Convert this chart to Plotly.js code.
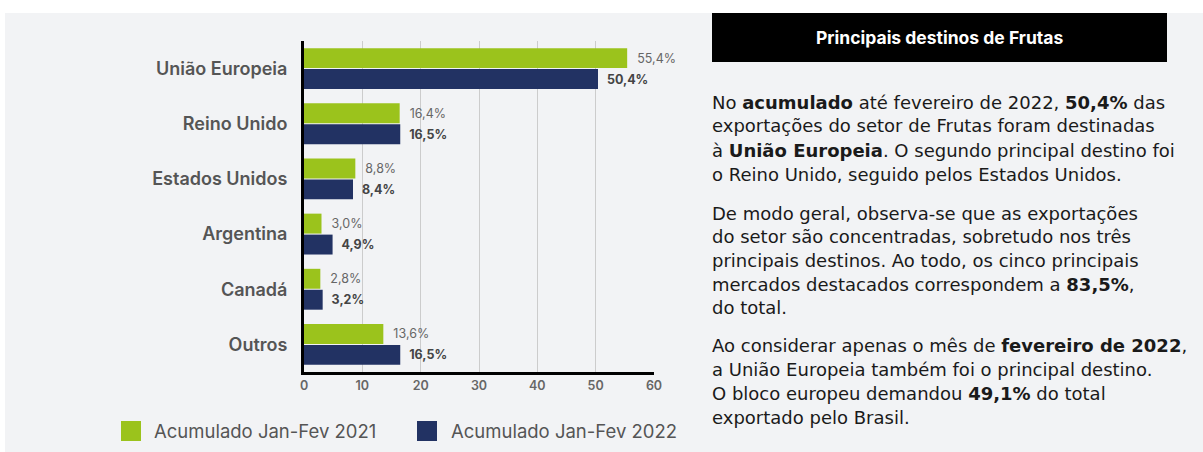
<!DOCTYPE html>
<html>
<head>
<meta charset="utf-8">
<script src="https://cdn.plot.ly/plotly-3.0.1.min.js"></script>
<style>html,body{margin:0;padding:0;background:#fff;}#chart{width:1203px;height:452px;}</style>
</head>
<body>
<div id="chart"></div>
<script>
// ---- data ----
const categories = ["União Europeia", "Reino Unido", "Estados Unidos", "Argentina", "Canadá", "Outros"];
const series2021 = [55.4, 16.4, 8.8, 3.0, 2.8, 13.6];
const series2022 = [50.4, 16.5, 8.4, 4.9, 3.2, 16.5];
const seriesNames = ["Acumulado Jan-Fev 2021", "Acumulado Jan-Fev 2022"];
const xTicks = [0, 10, 20, 30, 40, 50, 60];
const boxTitle = "Principais destinos de Frutas";
const paragraphLines = [
  ["No <b>acumulado</b> até fevereiro de 2022, <b>50,4%</b> das",
   "exportações do setor de Frutas foram destinadas",
   "à <b>União Europeia</b>. O segundo principal destino foi",
   "o Reino Unido, seguido pelos Estados Unidos."],
  ["De modo geral, observa-se que as exportações",
   "do setor são concentradas, sobretudo nos três",
   "principais destinos. Ao todo, os cinco principais",
   "mercados destacados correspondem a <b>83,5%</b>,",
   "do total."],
  ["Ao considerar apenas o mês de <b>fevereiro de 2022</b>,",
   "a União Europeia também foi o principal destino.",
   "O bloco europeu demandou <b>49,1%</b> do total",
   "exportado pelo Brasil."]
];

// ---- styling / geometry ----
const W = 1203, H = 452;
const M = {l: 304, r: 549, t: 41, b: 80};
const PW = W - M.l - M.r, PH = H - M.t - M.b;
const px = v => (v - M.l) / PW;
const py = v => (H - M.b - v) / PH;
const FONT = "Inter, Open Sans, sans-serif";
const TFONT = "DejaVu Sans, Inter, sans-serif";
const GREEN = "#9bc31c", NAVY = "#223263", BG = "#f2f3f5";
const fmt = v => v.toFixed(1).replace('.', ',') + '%';
const pad = '\u00a0\u00a0';

const traces = [
  {type: 'bar', orientation: 'h', name: seriesNames[0], y: categories, x: series2021,
   marker: {color: GREEN}, text: series2021.map(v => pad + fmt(v)), textposition: 'outside',
   textfont: {family: FONT, size: 12.5, color: '#666666'}, cliponaxis: false, showlegend: false, hoverinfo: 'x+y'},
  {type: 'bar', orientation: 'h', name: seriesNames[1], y: categories, x: series2022,
   marker: {color: NAVY}, text: series2022.map(v => pad + fmt(v)), textposition: 'outside',
   textfont: {family: FONT, size: 12.5, color: '#444444', weight: 'bold'}, cliponaxis: false, showlegend: false, hoverinfo: 'x+y'}
];

const shapes = [
  {type: 'rect', xref: 'paper', yref: 'paper', layer: 'below', x0: px(5), x1: px(1203), y0: py(13), y1: py(452),
   fillcolor: BG, line: {width: 0}},
  {type: 'rect', xref: 'paper', yref: 'paper', layer: 'below', x0: px(712), x1: px(1167), y0: py(13), y1: py(62),
   fillcolor: '#000000', line: {width: 0}}
];

const annotations = [
  {xref: 'paper', yref: 'paper', x: px(939.5), y: py(37.5), xanchor: 'center', yanchor: 'middle', showarrow: false,
   text: '<b>' + boxTitle + '</b>', font: {family: FONT, size: 17.5, color: '#ffffff', weight: 600}}
];

const lineYs = [[102, 126, 150, 174], [213, 237, 260, 284, 307], [345, 369, 393, 417]];
paragraphLines.forEach((para, i) => para.forEach((line, j) => {
  annotations.push({xref: 'paper', yref: 'paper', x: px(710), y: py(lineYs[i][j]), xanchor: 'left', yanchor: 'middle',
    showarrow: false, text: line, font: {family: TFONT, size: 18, color: '#1a1a1a'}});
}));

// manual legend
const legendItems = [{x: 121, tx: 152, color: GREEN}, {x: 417, tx: 449, color: NAVY}];
legendItems.forEach((it, i) => {
  const x0 = it.x, x1 = it.x + 20, y0 = 421, y1 = 441;
  shapes.push({type: 'rect', xref: 'paper', yref: 'paper', x0: px(x0), x1: px(x1), y0: py(y1), y1: py(y0),
    fillcolor: it.color, line: {width: 0}});
  annotations.push({xref: 'paper', yref: 'paper', x: px(it.tx), y: py(431), xanchor: 'left', yanchor: 'middle',
    showarrow: false, text: seriesNames[i], font: {family: FONT, size: 18.5, color: '#555555'}});
});

const layout = {
  width: W, height: H,
  margin: M,
  paper_bgcolor: '#ffffff',
  plot_bgcolor: 'rgba(0,0,0,0)',
  barmode: 'group',
  bargap: 0.24,
  bargroupgap: 0.05,
  font: {family: FONT},
  xaxis: {range: [0, 60], tickvals: xTicks, ticktext: xTicks.map(String), showgrid: true, gridcolor: '#cccccc', gridwidth: 1,
    showline: true, linecolor: '#000000', linewidth: 3, zeroline: false, ticks: '', fixedrange: true,
    tickfont: {family: FONT, size: 12.5, color: '#666666', weight: 600}},
  yaxis: {type: 'category', categoryorder: 'array', categoryarray: categories, autorange: 'reversed',
    showline: true, linecolor: '#000000', linewidth: 3, showgrid: false, ticks: '', ticklabelstandoff: 10, fixedrange: true,
    tickfont: {family: FONT, size: 18, color: '#555555', weight: 600}},
  shapes: shapes,
  annotations: annotations
};

Plotly.newPlot('chart', traces, layout, {displayModeBar: false, staticPlot: true});
</script>
</body>
</html>
